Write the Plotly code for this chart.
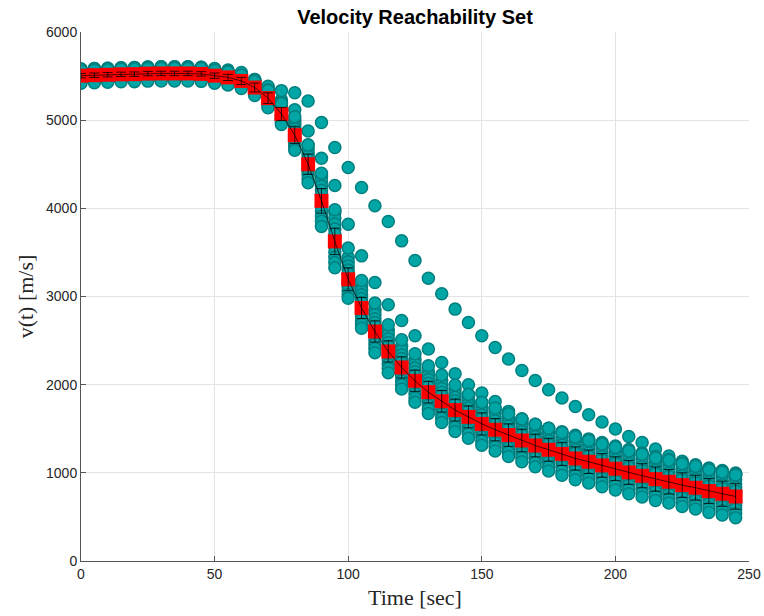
import plotly.graph_objects as go

# Time grid [sec]
time_s = list(range(0, 250, 5))

# Mean velocity [m/s] and its spread (error bar half-length)
mean_v = [5505, 5510, 5515, 5520, 5522, 5528, 5530, 5530, 5530, 5525,
          5505, 5485, 5445, 5370, 5250, 5070, 4830, 4500, 4085, 3625,
          3195, 2870, 2603, 2377, 2195, 2044, 1915, 1812, 1712, 1635,
          1555, 1489, 1428, 1367, 1310, 1262, 1215, 1163, 1126, 1084,
          1047, 1005, 967, 929, 899, 861, 831, 793, 763, 732]

std_v = [25, 25, 25, 25, 25, 25, 25, 25, 25, 25,
         30, 35, 40, 50, 60, 75, 95, 115, 140, 150,
         130, 120, 120, 120, 120, 120, 122, 122, 124, 124,
         125, 126, 127, 128, 129, 130, 131, 132, 133, 134,
         135, 136, 137, 138, 139, 140, 141, 142, 143, 145]

# Individual velocity trajectories [m/s]
run_1 = [5580, 5585, 5590, 5595, 5597, 5603, 5605, 5605, 5605, 5600,
         5580, 5560, 5520, 5460, 5370, 5230, 5000, 4715, 4365, 3955,
         3445, 3120, 2843, 2617, 2435, 2284, 2155, 2052, 1952, 1875,
         1795, 1729, 1668, 1607, 1550, 1502, 1455, 1403, 1366, 1324,
         1287, 1245, 1207, 1169, 1139, 1101, 1071, 1033, 1003, 972]

run_1b = [5565, 5570, 5575, 5580, 5582, 5588, 5590, 5590, 5590, 5585,
          5565, 5545, 5505, 5442, 5346, 5198, 4966, 4672, 4309, 3889,
          3395, 3070, 2795, 2569, 2387, 2236, 2107, 2004, 1904, 1827,
          1747, 1681, 1620, 1559, 1502, 1454, 1407, 1355, 1318, 1276,
          1239, 1197, 1159, 1121, 1091, 1053, 1023, 985, 955, 924]

run_2 = [5550, 5555, 5560, 5565, 5567, 5573, 5575, 5575, 5575, 5570,
         5550, 5530, 5490, 5425, 5322, 5166, 4932, 4629, 4253, 3823,
         3345, 3020, 2747, 2521, 2339, 2188, 2059, 1956, 1856, 1779,
         1699, 1633, 1572, 1511, 1454, 1406, 1359, 1307, 1270, 1228,
         1191, 1149, 1111, 1073, 1043, 1005, 975, 937, 907, 876]

run_2b = [5537, 5542, 5547, 5552, 5554, 5560, 5562, 5562, 5562, 5557,
          5537, 5517, 5477, 5408, 5301, 5138, 4902, 4591, 4204, 3765,
          3300, 2976, 2705, 2479, 2297, 2146, 2017, 1914, 1814, 1737,
          1657, 1591, 1530, 1469, 1412, 1364, 1317, 1265, 1228, 1186,
          1149, 1107, 1069, 1031, 1001, 963, 933, 895, 865, 834]

run_3 = [5525, 5530, 5535, 5540, 5542, 5548, 5550, 5550, 5550, 5545,
         5525, 5505, 5465, 5392, 5280, 5110, 4872, 4554, 4155, 3708,
         3258, 2932, 2663, 2437, 2255, 2104, 1975, 1872, 1772, 1695,
         1615, 1549, 1488, 1427, 1370, 1322, 1275, 1223, 1186, 1144,
         1107, 1065, 1027, 989, 959, 921, 891, 853, 823, 792]

run_4 = [5488, 5493, 5498, 5503, 5505, 5511, 5513, 5513, 5513, 5508,
         5488, 5468, 5428, 5352, 5228, 5046, 4796, 4458, 4027, 3565,
         3150, 2824, 2555, 2328, 2145, 1995, 1866, 1763, 1663, 1586,
         1506, 1440, 1379, 1318, 1261, 1213, 1166, 1114, 1077, 1035,
         998, 956, 918, 880, 850, 812, 782, 744, 714, 683]

run_4b = [5471, 5476, 5481, 5486, 5488, 5494, 5496, 5496, 5496, 5491,
          5471, 5451, 5411, 5334, 5206, 5022, 4762, 4416, 3969, 3505,
          3107, 2778, 2507, 2279, 2095, 1946, 1818, 1715, 1615, 1538,
          1458, 1392, 1331, 1270, 1213, 1165, 1118, 1066, 1029, 987,
          950, 908, 870, 832, 802, 764, 734, 696, 666, 635]

run_5 = [5455, 5460, 5465, 5470, 5472, 5478, 5480, 5480, 5480, 5475,
         5455, 5435, 5395, 5316, 5184, 4998, 4728, 4374, 3911, 3445,
         3065, 2732, 2460, 2230, 2045, 1898, 1770, 1667, 1567, 1490,
         1410, 1344, 1283, 1222, 1165, 1117, 1070, 1018, 981, 939,
         902, 860, 822, 784, 754, 716, 686, 648, 618, 587]

run_5b = [5437, 5442, 5447, 5452, 5454, 5460, 5462, 5462, 5462, 5457,
          5437, 5417, 5377, 5298, 5162, 4974, 4694, 4332, 3853, 3385,
          3022, 2686, 2411, 2182, 1997, 1849, 1721, 1618, 1518, 1441,
          1361, 1295, 1234, 1173, 1116, 1068, 1021, 969, 932, 890,
          853, 811, 773, 735, 705, 667, 637, 599, 569, 538]

run_6 = [5420, 5425, 5430, 5435, 5437, 5443, 5445, 5445, 5445, 5440,
         5420, 5400, 5360, 5280, 5140, 4950, 4660, 4290, 3795, 3325,
         2980, 2640, 2363, 2135, 1950, 1800, 1672, 1570, 1470, 1393,
         1313, 1247, 1186, 1125, 1068, 1020, 973, 921, 884, 842,
         805, 763, 725, 687, 657, 619, 589, 551, 521, 490]

run_late_1 = [5580, 5585, 5590, 5595, 5597, 5603, 5605, 5605, 5605, 5600,
              5585, 5570, 5540, 5460, 5385, 5335, 5310, 5218, 4973, 4690,
              4463, 4236, 4030, 3850, 3631, 3408, 3208, 3031, 2857, 2705,
              2554, 2422, 2290, 2161, 2048, 1942, 1848, 1753, 1659, 1576,
              1497, 1413, 1345, 1270, 1190, 1130, 1092, 1054, 1027, 998]

run_late_2 = [5550, 5555, 5560, 5565, 5567, 5573, 5575, 5575, 5575, 5570,
              5555, 5540, 5510, 5445, 5345, 5200, 5117, 4878, 4569, 4259,
              3820, 3461, 3159, 2906, 2728, 2554, 2404, 2252, 2124, 2000,
              1905, 1810, 1697, 1610, 1545, 1505, 1465, 1425, 1385, 1345,
              1305, 1265, 1225, 1185, 1150, 1110, 1075, 1045, 1015, 985]

run_late_3 = [5565, 5570, 5575, 5580, 5582, 5588, 5590, 5590, 5590, 5585,
              5565, 5548, 5510, 5440, 5340, 5190, 5040, 4720, 4399, 3983,
              3549, 3182, 2925, 2679, 2509, 2350, 2215, 2110, 1995, 1890,
              1800, 1735, 1670, 1610, 1552, 1505, 1458, 1406, 1368, 1326,
              1290, 1248, 1210, 1172, 1142, 1104, 1074, 1036, 1006, 975]

runs = [run_1, run_1b, run_2, run_2b, run_3, run_4, run_4b, run_5, run_5b,
        run_6, run_late_1, run_late_2, run_late_3]

x_ticks = [0, 50, 100, 150, 200, 250]
y_ticks = [0, 1000, 2000, 3000, 4000, 5000, 6000]

TEAL = "#00A6A6"
TEAL_EDGE = "#007F7F"
TICK_FONT = dict(family="Liberation Sans, Arial, sans-serif", size=14, color="#262626")
LABEL_FONT = dict(family="Liberation Serif, Times New Roman, serif", size=22, color="#262626")

fig = go.Figure()

for run in runs:
    fig.add_trace(go.Scatter(
        x=time_s, y=run, mode="markers",
        marker=dict(symbol="circle", size=12, color=TEAL,
                    line=dict(color=TEAL_EDGE, width=1.5)),
        showlegend=False, hoverinfo="x+y"))

fig.add_trace(go.Scatter(
    x=time_s, y=mean_v, mode="markers",
    marker=dict(symbol="square", size=14, color="#FF0000", line=dict(width=0)),
    showlegend=False))

fig.add_trace(go.Scatter(
    x=time_s, y=mean_v, mode="lines",
    line=dict(color="black", width=0.7),
    error_y=dict(type="data", array=std_v, visible=True,
                 color="black", thickness=0.8, width=5),
    showlegend=False))

axis_common = dict(
    showgrid=True, gridcolor="#E3E3E3", gridwidth=1,
    showline=True, linecolor="#555555", linewidth=1,
    ticks="inside", ticklen=5, tickcolor="#555555",
    tickfont=TICK_FONT, zeroline=False, mirror=False,
)

fig.update_xaxes(range=[0, 250], tickvals=x_ticks,
                 title=dict(text="Time [sec]", font=LABEL_FONT, standoff=8),
                 **axis_common)
fig.update_yaxes(range=[0, 6000], tickvals=y_ticks,
                 title=dict(text="v(t) [m/s]", font=LABEL_FONT, standoff=6),
                 **axis_common)

fig.update_layout(
    width=764, height=616,
    margin=dict(l=81, r=15, t=32, b=55, autoexpand=False),
    paper_bgcolor="white", plot_bgcolor="white",
    title=dict(text="<b>Velocity Reachability Set</b>",
               font=dict(family="Liberation Sans, Arial, sans-serif", size=20, color="black"),
               x=0.5, xref="paper", xanchor="center",
               y=1 - 17 / 616, yref="container", yanchor="middle"),
)

fig.write_html("out.html")
